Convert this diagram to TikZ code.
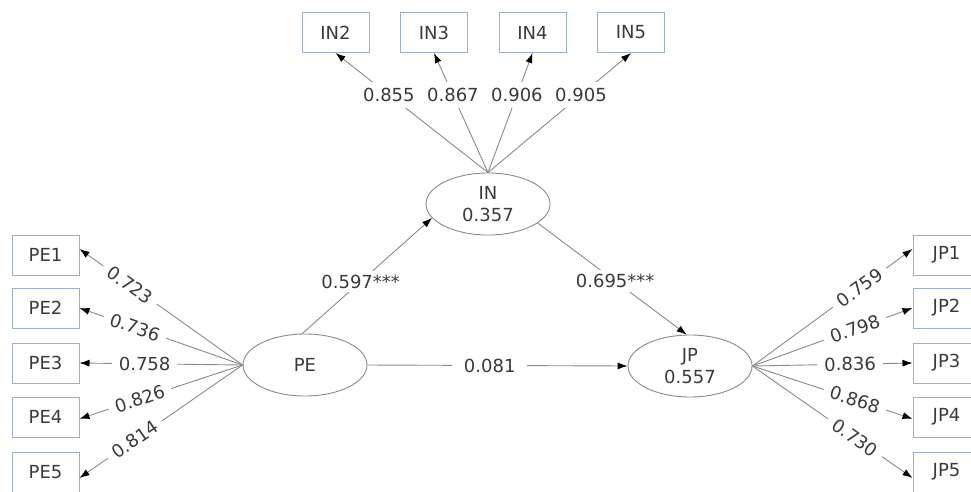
\documentclass[tikz,border=0pt]{standalone}
\usepackage{fontspec}
\setmainfont{DejaVu Sans}
\usetikzlibrary{shapes.geometric,arrows.meta}
\definecolor{boxc}{HTML}{9CB0CE}
\definecolor{linec}{HTML}{8A8A8A}
\definecolor{txt}{HTML}{3A3A3A}
\begin{document}
\begin{tikzpicture}[x=1pt,y=-1pt,
  ind/.style={draw=boxc, line width=1pt, minimum width=67pt, minimum height=40pt, inner sep=0pt, text=txt, font=\fontsize{18}{22}\selectfont},
  lat/.style={ellipse, draw=linec, line width=0.9pt, minimum width=124pt, minimum height=62pt, inner sep=0pt, text=txt, align=center, font=\fontsize{18}{22}\selectfont},
  conn/.style={draw=linec, line width=0.9pt, -{Latex[length=10pt,width=7pt,color=black]}},
  lbl/.style={fill=white, inner xsep=7pt, inner ysep=4pt, text=txt, font=\fontsize{18}{22}\selectfont}
]
\useasboundingbox (0,0) rectangle (971,491);
% latent variables
\node[lat] (PE) at (305,365) {PE};
\node[lat] (IN) at (488,204) {IN\\0.357};
\node[lat] (JP) at (690,366) {JP\\0.557};
% PE indicators
\node[ind] (PE1) at (45.5,255) {PE1};
\node[ind] (PE2) at (45.5,308) {PE2};
\node[ind] (PE3) at (45.5,363) {PE3};
\node[ind] (PE4) at (45.5,417) {PE4};
\node[ind] (PE5) at (45.5,472) {PE5};
% JP indicators
\node[ind] (JP1) at (946.5,255) {JP1};
\node[ind] (JP2) at (946.5,308) {JP2};
\node[ind] (JP3) at (946.5,363) {JP3};
\node[ind] (JP4) at (946.5,417) {JP4};
\node[ind] (JP5) at (946.5,472) {JP5};
% IN indicators
\node[ind] (IN2) at (335.5,32.5) {IN2};
\node[ind] (IN3) at (434,32.5) {IN3};
\node[ind] (IN4) at (532.5,32.5) {IN4};
\node[ind] (IN5) at (631,32.5) {IN5};
% PE loadings
\draw[conn] (PE.west) -- node[lbl,sloped,pos=0.69] {0.723} (PE1.10);
\draw[conn] (PE.west) -- node[lbl,sloped,pos=0.66] {0.736} (PE2.east);
\draw[conn] (PE.west) -- node[lbl,sloped,pos=0.60] {0.758} (PE3.east);
\draw[conn] (PE.west) -- node[lbl,sloped,pos=0.63] {0.826} (PE4.-3);
\draw[conn] (PE.west) -- node[lbl,sloped,pos=0.66] {0.814} (PE5.-10);
% JP loadings
\draw[conn] (JP.east) -- node[lbl,sloped,pos=0.67] {0.759} (JP1.170);
\draw[conn] (JP.east) -- node[lbl,sloped,pos=0.64] {0.798} (JP2.west);
\draw[conn] (JP.east) -- node[lbl,sloped,pos=0.61] {0.836} (JP3.west);
\draw[conn] (JP.east) -- node[lbl,sloped,pos=0.64] {0.868} (JP4.183);
\draw[conn] (JP.east) -- node[lbl,sloped,pos=0.64] {0.730} (JP5.190);
% IN loadings
\draw[conn] (IN.north) -- node[lbl,inner xsep=3pt,inner ysep=6pt,pos=0.65] {0.855} (IN2.south);
\draw[conn] (IN.north) -- node[lbl,inner xsep=3pt,inner ysep=6pt,pos=0.65] {0.867} (IN3.south);
\draw[conn] (IN.north) -- node[lbl,inner xsep=3pt,inner ysep=6pt,pos=0.65] {0.906} (IN4.south);
\draw[conn] (IN.north) -- node[lbl,inner xsep=3pt,inner ysep=6pt,pos=0.65] {0.905} (IN5.south);
% structural paths
\draw[conn] (PE.95) -- node[lbl,pos=0.45] {0.597***} (IN.194);
\draw[conn] (IN.-21) -- node[lbl,pos=0.52] {0.695***} (JP.96);
\draw[conn] (PE.east) -- node[lbl,inner xsep=12pt,pos=0.47] {0.081} (JP.west);
\end{tikzpicture}
\end{document}
